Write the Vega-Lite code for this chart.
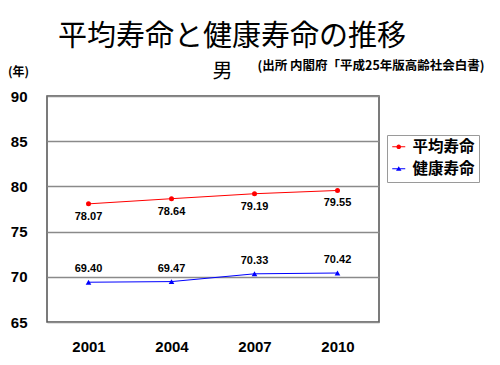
{
  "$schema": "https://vega.github.io/schema/vega-lite/v6.json",
  "width": 332,
  "height": 226,
  "autosize": "none",
  "padding": {"left": 47, "top": 96, "right": 121, "bottom": 43},
  "background": "white",
  "title": {
    "text": "平均寿命と健康寿命の推移",
    "anchor": "start",
    "frame": "group",
    "dx": 11,
    "offset": 7,
    "font": "Noto Sans CJK JP",
    "fontSize": 29,
    "fontWeight": "normal",
    "color": "black"
  },
  "data": {
    "values": [
      {"year": "2001", "series": "平均寿命", "value": 78.07},
      {"year": "2004", "series": "平均寿命", "value": 78.64},
      {"year": "2007", "series": "平均寿命", "value": 79.19},
      {"year": "2010", "series": "平均寿命", "value": 79.55},
      {"year": "2001", "series": "健康寿命", "value": 69.40},
      {"year": "2004", "series": "健康寿命", "value": 69.47},
      {"year": "2007", "series": "健康寿命", "value": 70.33},
      {"year": "2010", "series": "健康寿命", "value": 70.42}
    ]
  },
  "config": {
    "view": {"stroke": "#505050", "strokeWidth": 1.5},
    "legend": {
      "orient": "none",
      "legendX": 340,
      "legendY": 39,
      "strokeColor": "#9a9a9a",
      "fillColor": "white",
      "padding": 4,
      "labelFont": "Noto Sans CJK JP",
      "labelFontWeight": "bold",
      "labelFontSize": 15.5,
      "labelColor": "black",
      "labelOffset": 6,
      "rowPadding": 5,
      "symbolSize": 169,
      "symbolStrokeWidth": 0
    }
  },
  "resolve": {"axis": {"y": "independent"}},
  "layer": [
    {
      "layer": [
        {
          "mark": {"type": "line", "strokeWidth": 1},
          "encoding": {
            "x": {
              "field": "year", "type": "ordinal",
              "scale": {"type": "point", "padding": 0.5},
              "axis": {
                "title": "(出所 内閣府「平成25年版高齢社会白書)",
                "titleX": 437, "titleY": -257,
                "titleAlign": "right", "titleBaseline": "middle",
                "titleFont": "Noto Sans CJK JP", "titleFontWeight": "bold", "titleFontSize": 12.5, "titleColor": "black",
                "labelAngle": 0,
                "labelFont": "Liberation Sans", "labelFontWeight": "bold", "labelFontSize": 15, "labelColor": "black",
                "labelPadding": 17,
                "ticks": false, "domain": false, "grid": false
              }
            },
            "y": {
              "field": "value", "type": "quantitative",
              "scale": {"domain": [65, 90], "nice": false, "zero": false},
              "axis": {
                "values": [65, 70, 75, 80, 85, 90],
                "title": "(年)",
                "titleAngle": 0, "titleX": -29, "titleY": -25,
                "titleAlign": "center", "titleBaseline": "middle",
                "titleFont": "Noto Sans CJK JP", "titleFontWeight": "bold", "titleFontSize": 12, "titleColor": "black",
                "labelFont": "Liberation Sans", "labelFontWeight": "bold", "labelFontSize": 15, "labelColor": "black",
                "labelPadding": 20,
                "ticks": false, "domain": false,
                "grid": true, "gridColor": "#8a8a8a", "gridWidth": 1.5
              }
            },
            "color": {
              "field": "series", "type": "nominal",
              "scale": {"domain": ["健康寿命", "平均寿命"], "range": ["#0000ff", "#ff0000"]},
              "legend": null
            }
          }
        },
        {
          "transform": [{"filter": "datum.series === '平均寿命'"}],
          "mark": {"type": "point", "shape": "circle", "filled": true, "size": 25, "opacity": 1},
          "encoding": {
            "x": {"field": "year", "type": "ordinal"},
            "y": {"field": "value", "type": "quantitative"},
            "color": {"field": "series", "type": "nominal", "legend": null}
          }
        },
        {
          "transform": [{"filter": "datum.series === '健康寿命'"}],
          "mark": {"type": "point", "shape": "triangle-up", "filled": true, "size": 32, "opacity": 1},
          "encoding": {
            "x": {"field": "year", "type": "ordinal"},
            "y": {"field": "value", "type": "quantitative"},
            "color": {"field": "series", "type": "nominal", "legend": null}
          }
        },
        {
          "transform": [{"filter": "datum.series === '平均寿命'"}],
          "mark": {"type": "text", "dy": 13, "font": "Liberation Sans", "fontWeight": "bold", "fontSize": 11, "color": "black"},
          "encoding": {
            "x": {"field": "year", "type": "ordinal"},
            "y": {"field": "value", "type": "quantitative"},
            "text": {"field": "value", "type": "quantitative", "format": ".2f"}
          }
        },
        {
          "transform": [{"filter": "datum.series === '健康寿命'"}],
          "mark": {"type": "text", "dy": -13, "font": "Liberation Sans", "fontWeight": "bold", "fontSize": 11, "color": "black"},
          "encoding": {
            "x": {"field": "year", "type": "ordinal"},
            "y": {"field": "value", "type": "quantitative"},
            "text": {"field": "value", "type": "quantitative", "format": ".2f"}
          }
        },
        {
          "transform": [{"filter": "false"}],
          "mark": {"type": "point", "filled": true, "opacity": 1, "size": 169},
          "encoding": {
            "fill": {
              "field": "series", "type": "nominal",
              "scale": {"domain": ["平均寿命", "健康寿命"], "range": ["#ff0000", "#0000ff"]},
              "legend": {"title": null}
            },
            "shape": {
              "field": "series", "type": "nominal",
              "scale": {
                "domain": ["平均寿命", "健康寿命"],
                "range": [
                  "M-1,-0.08H1V0.08H-1ZM-0.36,0A0.36,0.36 0 1,1 0.36,0A0.36,0.36 0 1,1 -0.36,0Z",
                  "M-1,-0.08H1V0.08H-1ZM-0.42,0.3L0,-0.4L0.42,0.3Z"
                ]
              },
              "legend": {"title": null}
            }
          }
        }
      ]
    },
    {
      "transform": [{"filter": "false"}],
      "mark": {"type": "point"},
      "encoding": {
        "x": {"field": "year", "type": "ordinal"},
        "y": {
          "field": "value", "type": "quantitative",
          "axis": {
            "orient": "right",
            "title": "男",
            "titleAngle": 0, "titleX": -157, "titleY": -25,
            "titleAlign": "center", "titleBaseline": "middle",
            "titleFont": "Noto Sans CJK JP", "titleFontWeight": "normal", "titleFontSize": 20, "titleColor": "black",
            "labels": false, "ticks": false, "domain": false, "grid": false
          }
        }
      }
    }
  ]
}
